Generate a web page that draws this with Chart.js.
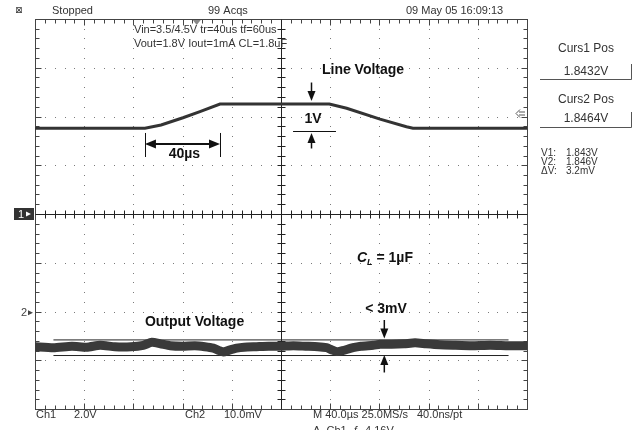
<!DOCTYPE html>
<html><head><meta charset="utf-8">
<script src="https://cdn.jsdelivr.net/npm/chart.js@4.4.1/dist/chart.umd.min.js"></script>
<style>html,body{margin:0;padding:0;background:#fff;overflow:hidden;}</style>
</head><body>
<canvas id="c" width="637" height="430"></canvas>
<script>
// ---- Data ----
// time axis: microseconds relative to screen centre (40 us/div, 10 div)
const ch1Time  = [-200, -110.6, -97.5, -79.7, -65.9, -49.6, 39.3, 53.4, 80.5, 102, 107.3, 200];
const ch1Volts = [3.52, 3.52, 3.65, 3.95, 4.20, 4.51, 4.51, 4.34, 3.89, 3.58, 3.52, 3.52];

const ch2Time  = [-200, -185, -170, -158, -147, -135, -122, -112, -105, -98, -90, -80, -70, -62, -55, -50, -47, -42, -36, -30, -20, -10, 0, 10, 20, 30, 37, 41, 45.5, 50, 58.5, 65, 75, 80.5, 90, 100, 109, 118, 129, 140, 155, 170, 185, 200];
const ch2Volts = [1.8450, 1.8448, 1.8451, 1.8449, 1.8453, 1.8450, 1.8450, 1.8453, 1.8459, 1.8456, 1.8452, 1.8451, 1.8452, 1.8450, 1.8447, 1.8442, 1.8439, 1.8443, 1.8447, 1.8449, 1.8450, 1.8451, 1.8451, 1.8452, 1.8451, 1.8450, 1.8448, 1.8444, 1.8440, 1.8442, 1.8448, 1.8451, 1.8453, 1.8455, 1.8455, 1.8456, 1.8458, 1.8456, 1.8454, 1.8453, 1.8452, 1.8453, 1.8452, 1.8452];

const cursorTime = [-185, 185];
const curs1Volts = 1.8432;
const curs2Volts = 1.8464;

const ch1VoltsPerDiv = 2.0;     // Ch1 2.0V
const ch2VoltsPerDiv = 0.010;   // Ch2 10.0mV
const ch2Centre = 1.87223;      // Ch2 value at screen centre
const usPerDiv = 40;
const trigLevel = 4.16;
const trigTime = -68.5;

const topTexts = ["Stopped", "99 Acqs", "09 May 05 16:09:13"];
const setupTexts = ["Vin=3.5/4.5V tr=40us tf=60us", "Vout=1.8V Iout=1mA CL=1.8uF"];
const cursorTexts = ["Curs1 Pos", "1.8432V", "Curs2 Pos", "1.8464V"];
const readoutLabels = ["V1:", "V2:", "\u0394V:"];
const readoutValues = ["1.843V", "1.846V", "3.2mV"];
const bottomTexts = ["Ch1", "2.0V", "Ch2", "10.0mV", "M 40.0\u00b5s 25.0MS/s", "40.0ns/pt", "A  Ch1  \u0192  4.16V"];

const toXY = (xs, ys) => xs.map((x, i) => ({x: x, y: ys[i]}));

const scopeFont = "'Liberation Sans Narrow', 'Liberation Sans', Arial, sans-serif";
const boldFont = "bold 14px 'Liberation Sans', Arial, sans-serif";

function arrowV(ctx, x, yTail, yTip) {
  const dir = Math.sign(yTip - yTail);
  ctx.beginPath(); ctx.moveTo(x, yTail); ctx.lineTo(x, yTip - dir * 8); ctx.stroke();
  ctx.beginPath(); ctx.moveTo(x, yTip); ctx.lineTo(x - 4, yTip - dir * 10); ctx.lineTo(x + 4, yTip - dir * 10); ctx.closePath(); ctx.fill();
}
function arrowH(ctx, y, xTail, xTip) {
  const dir = Math.sign(xTip - xTail);
  ctx.beginPath(); ctx.moveTo(xTip, y); ctx.lineTo(xTip - dir * 11, y - 4.5); ctx.lineTo(xTip - dir * 11, y + 4.5); ctx.closePath(); ctx.fill();
}

const scopePlugin = {
  id: 'scope',
  beforeDatasetsDraw(chart) {
    const ctx = chart.ctx, ca = chart.chartArea;
    const xs = chart.scales.x, ys = chart.scales.y;
    const X = t => xs.getPixelForValue(t);
    const Y = d => ys.getPixelForValue(d * ch1VoltsPerDiv);
    ctx.save();
    // dotted graticule
    ctx.fillStyle = '#7a7a7a';
    for (let i = 1; i < 10; i++) {
      if (i === 5) continue;
      const xp = Math.round(X(-200 + usPerDiv * i));
      for (let m = 1; m < 40; m++) ctx.fillRect(xp, Math.round(Y(-4 + 0.2 * m)), 1, 1);
    }
    for (let j = 1; j < 8; j++) {
      if (j === 4) continue;
      const yp = Math.round(Y(-4 + j));
      for (let m = 1; m < 50; m++) ctx.fillRect(Math.round(X(-200 + 8 * m)), yp, 1, 1);
    }
    // frame
    ctx.strokeStyle = '#444'; ctx.lineWidth = 1;
    const L = Math.round(ca.left) + 0.5, R = Math.round(ca.right) + 0.5, T = Math.round(ca.top) + 0.5, B = Math.round(ca.bottom) + 0.5;
    ctx.strokeRect(L, T, R - L, B - T);
    ctx.beginPath();
    for (let m = 1; m < 50; m++) {
      const xp = Math.round(X(-200 + 8 * m)) + 0.5;
      const len = (m % 5 === 0) ? 6 : 4;
      ctx.moveTo(xp, T); ctx.lineTo(xp, T + len);
      ctx.moveTo(xp, B); ctx.lineTo(xp, B - len);
    }
    for (let m = 1; m < 40; m++) {
      const yp = Math.round(Y(-4 + 0.2 * m)) + 0.5;
      const len = (m % 5 === 0) ? 6 : 4;
      ctx.moveTo(L, yp); ctx.lineTo(L + len, yp);
      ctx.moveTo(R, yp); ctx.lineTo(R - len, yp);
    }
    ctx.stroke();
    // centre crosshair
    ctx.strokeStyle = '#222';
    const cx = Math.round(X(0)) + 0.5, cy = Math.round(Y(0)) + 0.5;
    ctx.beginPath();
    ctx.moveTo(cx, T); ctx.lineTo(cx, B);
    ctx.moveTo(L, cy); ctx.lineTo(R, cy);
    for (let m = 1; m < 50; m++) {
      const xp = Math.round(X(-200 + 8 * m)) + 0.5;
      ctx.moveTo(xp, cy - 4); ctx.lineTo(xp, cy + 4);
    }
    for (let m = 1; m < 40; m++) {
      const yp = Math.round(Y(-4 + 0.2 * m)) + 0.5;
      ctx.moveTo(cx - 4, yp); ctx.lineTo(cx + 4, yp);
    }
    ctx.stroke();
    ctx.restore();
  },
  afterDatasetsDraw(chart) {
    const ctx = chart.ctx, ca = chart.chartArea;
    const xs = chart.scales.x, ys = chart.scales.y;
    const X = t => xs.getPixelForValue(t);
    const Y = d => ys.getPixelForValue(d * ch1VoltsPerDiv);
    ctx.save();
    // ---- annotations (bold) ----
    ctx.fillStyle = '#111'; ctx.strokeStyle = '#111';
    ctx.font = boldFont; ctx.textBaseline = 'middle'; ctx.textAlign = 'center';
    ctx.fillText('Line Voltage', X(66.7), Y(2.954));
    ctx.fillText('1V', X(26), Y(1.949));
    ctx.fillText('40\u00b5s', X(-78.5), Y(1.22));
    ctx.fillText('Output Voltage', X(-70.3), Y(-2.215));
    ctx.fillText('< 3mV', X(85.4), Y(-1.949));
    // C_L = 1uF
    ctx.textAlign = 'left';
    let cxp = X(61.8); const cyp = Y(-0.903);
    ctx.font = "italic bold 14px 'Liberation Sans', Arial, sans-serif";
    ctx.fillText('C', cxp, cyp); cxp += ctx.measureText('C').width;
    ctx.font = "italic bold 9px 'Liberation Sans', Arial, sans-serif";
    ctx.fillText('L', cxp, cyp + 4); cxp += ctx.measureText('L').width;
    ctx.font = boldFont;
    ctx.fillText(' = 1\u00b5F', cxp, cyp);
    // arrows
    ctx.lineWidth = 1.5;
    arrowV(ctx, X(24.8), Y(2.697), Y(2.318));
    arrowV(ctx, X(24.8), Y(1.344), Y(1.662));
    ctx.lineWidth = 1;
    ctx.beginPath(); ctx.moveTo(X(9.8), Math.round(Y(1.703)) + 0.5); ctx.lineTo(X(44.7), Math.round(Y(1.703)) + 0.5); ctx.stroke();
    ctx.lineWidth = 1.5;
    arrowV(ctx, X(84), Y(-2.174), Y(-2.554));
    arrowV(ctx, X(84), Y(-3.251), Y(-2.892));
    // 40us double arrow
    const ya = Y(1.436), xa = X(-110.6), xb = X(-49.6);
    ctx.lineWidth = 2;
    ctx.beginPath(); ctx.moveTo(xa + 6, ya); ctx.lineTo(xb - 6, ya); ctx.stroke();
    arrowH(ctx, ya, xb, xa); arrowH(ctx, ya, xa, xb);
    ctx.lineWidth = 1;
    ctx.beginPath();
    ctx.moveTo(Math.round(xa) + 0.5, Y(1.662)); ctx.lineTo(Math.round(xa) + 0.5, Y(1.169));
    ctx.moveTo(Math.round(xb) + 0.5, Y(1.662)); ctx.lineTo(Math.round(xb) + 0.5, Y(1.169));
    ctx.stroke();

    // ---- scope chrome text ----
    ctx.fillStyle = '#333'; ctx.strokeStyle = '#333';
    ctx.font = "11px " + scopeFont; ctx.textAlign = 'left'; ctx.textBaseline = 'middle';
    ctx.fillText(topTexts[0], 52, 11);
    ctx.fillText(topTexts[1], 208, 11);
    ctx.fillText(topTexts[2], 406, 11);
    ctx.font = "9px 'DejaVu Sans', sans-serif";
    ctx.fillText('\u22a0', 15, 11);
    ctx.font = "11px " + scopeFont;
    ctx.fillText(setupTexts[0], 134, 30);
    ctx.fillText(setupTexts[1], 134, 44);
    // trigger position marker
    ctx.fillStyle = '#888';
    const tx = X(trigTime);
    ctx.beginPath(); ctx.moveTo(tx - 4, ca.top + 1); ctx.lineTo(tx + 4, ca.top + 1); ctx.lineTo(tx, ca.top + 6); ctx.closePath(); ctx.fill();
    // trigger level marker (right)
    ctx.strokeStyle = '#555'; ctx.lineWidth = 1;
    const ty = Math.round(ys.getPixelForValue(trigLevel)) + 0.5;
    ctx.beginPath();
    ctx.moveTo(ca.right - 2, ty - 1.5); ctx.lineTo(ca.right - 8, ty - 1.5);
    ctx.moveTo(ca.right - 2, ty + 1.5); ctx.lineTo(ca.right - 8, ty + 1.5);
    ctx.moveTo(ca.right - 7, ty - 4); ctx.lineTo(ca.right - 11, ty); ctx.lineTo(ca.right - 7, ty + 4);
    ctx.stroke();
    // channel ground markers
    const g1 = Y(0);
    ctx.fillStyle = '#333';
    ctx.fillRect(14, g1 - 6, 20, 12);
    ctx.fillStyle = '#fff'; ctx.font = "11px " + scopeFont;
    ctx.fillText('1', 18, g1 + 0.5);
    ctx.beginPath(); ctx.moveTo(26, g1 - 2.5); ctx.lineTo(31, g1); ctx.lineTo(26, g1 + 2.5); ctx.closePath(); ctx.fill();
    const g2 = chart.scales.y2.getPixelForValue(ch2Centre - 0.02025);
    ctx.fillStyle = '#444';
    ctx.fillText('2', 21, g2 + 0.5);
    ctx.beginPath(); ctx.moveTo(28, g2 - 2.5); ctx.lineTo(33, g2); ctx.lineTo(28, g2 + 2.5); ctx.closePath(); ctx.fill();

    // ---- right panel ----
    ctx.fillStyle = '#333'; ctx.textAlign = 'center';
    ctx.font = "12px " + scopeFont;
    ctx.fillText(cursorTexts[0], 586, 49);
    ctx.fillText(cursorTexts[1], 586, 72);
    ctx.fillText(cursorTexts[2], 586, 100);
    ctx.fillText(cursorTexts[3], 586, 119);
    ctx.strokeStyle = '#555';
    ctx.beginPath();
    ctx.moveTo(540, 79.5); ctx.lineTo(631.5, 79.5); ctx.lineTo(631.5, 64);
    ctx.moveTo(540, 127.5); ctx.lineTo(631.5, 127.5); ctx.lineTo(631.5, 112);
    ctx.stroke();
    ctx.textAlign = 'left'; ctx.font = "10px " + scopeFont;
    for (let i = 0; i < 3; i++) {
      ctx.fillText(readoutLabels[i], 541, 153 + i * 9);
      ctx.fillText(readoutValues[i], 566, 153 + i * 9);
    }

    // ---- bottom readout ----
    ctx.font = "11px " + scopeFont; ctx.textBaseline = 'middle';
    ctx.fillText(bottomTexts[0], 36, 415);
    ctx.fillText(bottomTexts[1], 74, 415);
    ctx.fillText(bottomTexts[2], 185, 415);
    ctx.fillText(bottomTexts[3], 224, 415);
    ctx.fillText(bottomTexts[4], 313, 415);
    ctx.fillText(bottomTexts[5], 417, 415);
    ctx.textBaseline = 'top';
    ctx.fillText(bottomTexts[6], 313, 425);
    ctx.restore();
  }
};

new Chart(document.getElementById('c'), {
  type: 'line',
  data: {
    datasets: [
      { label: 'Ch1 line voltage', data: toXY(ch1Time, ch1Volts), yAxisID: 'y',
        borderColor: '#333', borderWidth: 3, pointRadius: 0, tension: 0 },
      { label: 'Ch2 output voltage', data: toXY(ch2Time, ch2Volts), yAxisID: 'y2',
        borderColor: '#3a3a3a', borderWidth: 9, pointRadius: 0, tension: 0.2, borderJoinStyle: 'round' },
      { label: 'Cursor 1', data: toXY(cursorTime, [curs1Volts, curs1Volts]), yAxisID: 'y2',
        borderColor: '#222', borderWidth: 1, pointRadius: 0 },
      { label: 'Cursor 2', data: toXY(cursorTime, [curs2Volts, curs2Volts]), yAxisID: 'y2',
        borderColor: '#222', borderWidth: 1, pointRadius: 0 }
    ]
  },
  options: {
    responsive: false, animation: false, devicePixelRatio: 1,
    layout: { padding: { left: 35, right: 110, top: 19, bottom: 21 } },
    plugins: { legend: { display: false }, tooltip: { enabled: false } },
    scales: {
      x: { type: 'linear', min: -200, max: 200, display: false },
      y: { min: -4 * ch1VoltsPerDiv, max: 4 * ch1VoltsPerDiv, display: false },
      y2: { min: ch2Centre - 4 * ch2VoltsPerDiv, max: ch2Centre + 4 * ch2VoltsPerDiv, display: false }
    }
  },
  plugins: [scopePlugin]
});
</script>
</body></html>
